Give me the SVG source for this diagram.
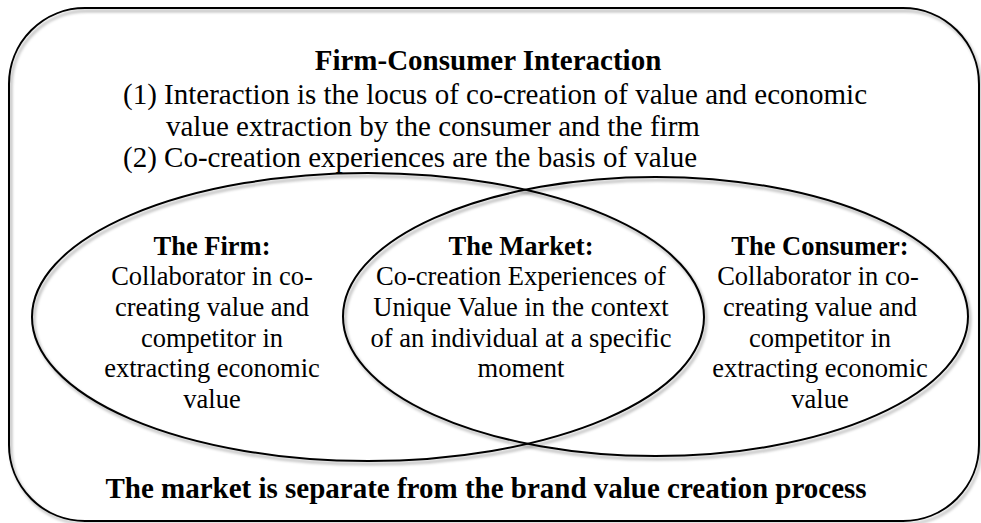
<svg xmlns="http://www.w3.org/2000/svg" width="981" height="523" viewBox="0 0 981 523">
<defs>
<filter id="sh" x="-5%" y="-5%" width="110%" height="110%">
<feDropShadow dx="2" dy="3" stdDeviation="1.5" flood-color="#000" flood-opacity="0.35"/>
</filter>
</defs>
<style>
.shape{fill:none;stroke:#000;stroke-width:2;filter:url(#sh)}
text{font-family:"Liberation Serif","Times New Roman",serif;fill:#000}
.b{font-weight:bold;font-size:29px;text-anchor:middle}
.t{font-size:29px}
.n{font-size:26.5px;text-anchor:middle}
.nb{font-size:26.5px;font-weight:bold;text-anchor:middle}
</style>
<g id="frame">
<rect class="shape" x="9" y="8" width="970" height="513" rx="76" ry="76"/>
<text class="b" x="488" y="70">Firm-Consumer Interaction</text>
<text class="t" x="123" y="104">(1) Interaction is the locus of co-creation of value and economic</text>
<text class="t" x="166" y="136">value extraction by the consumer and the firm</text>
<text class="t" x="123" y="167">(2) Co-creation experiences are the basis of value</text>
<text class="b" x="486" y="498">The market is separate from the brand value creation process</text>
</g>
<g id="connectors"></g>
<g id="firm">
<ellipse class="shape" cx="368" cy="317" rx="336" ry="144"/>
<text class="nb" x="212" y="255">The Firm:</text>
<text class="n" x="212" y="285">Collaborator in co-</text>
<text class="n" x="212" y="316">creating value and</text>
<text class="n" x="212" y="347">competitor in</text>
<text class="n" x="212" y="377">extracting economic</text>
<text class="n" x="212" y="408">value</text>
</g>
<g id="consumer">
<ellipse class="shape" cx="655.5" cy="316.5" rx="312.5" ry="139.5"/>
<text class="nb" x="820" y="255">The Consumer:</text>
<text class="n" x="818" y="285">Collaborator in co-</text>
<text class="n" x="820" y="316">creating value and</text>
<text class="n" x="820" y="347">competitor in</text>
<text class="n" x="820" y="377">extracting economic</text>
<text class="n" x="820" y="408">value</text>
</g>
<g id="market">
<text class="nb" x="521" y="255">The Market:</text>
<text class="n" x="521" y="285">Co-creation Experiences of</text>
<text class="n" x="521" y="316">Unique Value in the context</text>
<text class="n" x="521" y="347">of an individual at a specific</text>
<text class="n" x="521" y="377">moment</text>
</g>
</svg>
